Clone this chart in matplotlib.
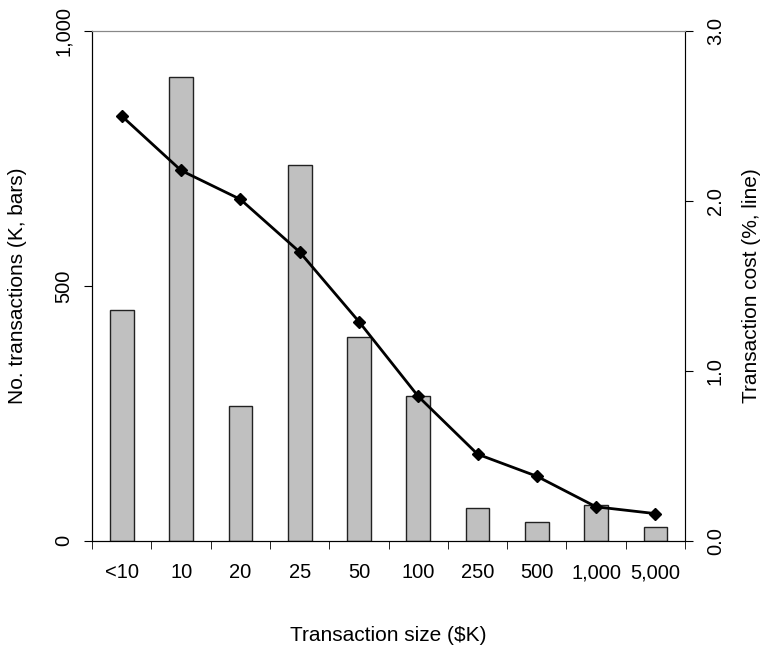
import numpy as np
import matplotlib.pyplot as plt
from matplotlib.ticker import FuncFormatter

plt.rcParams['font.family'] = ['Liberation Sans', 'DejaVu Sans']

sizes = ['<10', '10', '20', '25', '50', '100', '250', '500', '1,000', '5,000']
transactions = [453, 910, 265, 737, 400, 285, 65, 36, 71, 27]
cost_pct = [2.50, 2.18, 2.01, 1.70, 1.29, 0.85, 0.51, 0.38, 0.20, 0.16]

x = np.arange(len(sizes))

fig = plt.figure(figsize=(7.62, 6.5), dpi=100)
ax = fig.add_axes([0.121, 0.168, 0.778, 0.784])
ax.bar(x, transactions, width=0.4, color='#c0c0c0', edgecolor='#222222', linewidth=1.0, zorder=2)
ax.set_xlim(-0.5, len(sizes) - 0.5)
ax.set_ylim(0, 1000)
ax.set_yticks([0, 500, 1000])
ax.yaxis.set_major_formatter(FuncFormatter(lambda v, p: f'{int(v):,}'))
ax.set_xticks(x)
ax.set_xticklabels(sizes, fontsize=14.5)
ax.set_xticks(np.arange(-0.5, len(sizes)), minor=True)
ax.tick_params(axis='x', which='major', length=0, pad=16)
ax.tick_params(axis='x', which='minor', length=6, direction='out')
ax.tick_params(axis='y', length=6, direction='out', labelsize=14.5, pad=8)
for lab in ax.get_yticklabels():
    lab.set_rotation(90)
    lab.set_va('center')
ax.set_ylabel('No. transactions (K, bars)', fontsize=15, labelpad=19)
ax.set_xlabel('Transaction size ($K)', fontsize=15, labelpad=32)
for s in ['top', 'right']:
    ax.spines[s].set_color('#888888')

ax2 = ax.twinx()
ax2.plot(x, cost_pct, color='black', linewidth=2, marker='D', markersize=6.5, zorder=3)
ax2.set_ylim(0, 3.0)
ax2.set_yticks([0.0, 1.0, 2.0, 3.0])
ax2.yaxis.set_major_formatter(FuncFormatter(lambda v, p: f'{v:.1f}'))
ax2.tick_params(axis='y', length=6, direction='out', labelsize=14.5, pad=9)
for lab in ax2.get_yticklabels():
    lab.set_rotation(90)
    lab.set_va('center')
ax2.set_ylabel('Transaction cost (%, line)', fontsize=15, labelpad=12)
ax2.spines['top'].set_color('#888888')

fig.savefig('out.png', dpi=100)
